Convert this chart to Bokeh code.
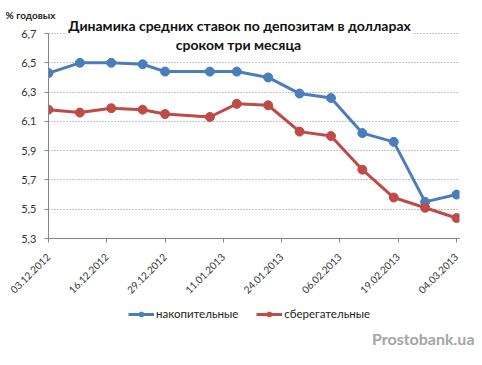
import pandas as pd
from bokeh.plotting import figure
from bokeh.layouts import column
from bokeh.models import (FixedTicker, DatetimeTickFormatter, Label, Legend, LegendItem,
                          Range1d, Title)
from bokeh.embed import file_html
from bokeh.resources import INLINE

# ---- data ----
dates = ["03.12.2012", "10.12.2012", "17.12.2012", "24.12.2012", "29.12.2012",
         "08.01.2013", "14.01.2013", "21.01.2013", "28.01.2013", "04.02.2013",
         "11.02.2013", "18.02.2013", "25.02.2013", "04.03.2013"]
nakopitelnye = [6.43, 6.50, 6.50, 6.49, 6.44, 6.44, 6.44, 6.40, 6.29, 6.26, 6.02, 5.96, 5.55, 5.60]
sberegatelnye = [6.18, 6.16, 6.19, 6.18, 6.15, 6.13, 6.22, 6.21, 6.03, 6.00, 5.77, 5.58, 5.51, 5.44]
x_tick_labels = ["03.12.2012", "16.12.2012", "29.12.2012", "11.01.2013",
                 "24.01.2013", "06.02.2013", "19.02.2013", "04.03.2013"]
y_ticks = [5.3, 5.5, 5.7, 5.9, 6.1, 6.3, 6.5, 6.7]
y_tick_labels = ["5,3", "5,5", "5,7", "5,9", "6,1", "6,3", "6,5", "6,7"]
series_names = ["накопительные", "сберегательные"]
title_lines = ["Динамика средних ставок по депозитам в долларах", "сроком три месяца"]
y_unit = "% годовых"
watermark = "Prostobank.ua"

FONT = "Lato"
BLUE = "#4A7EBB"
RED = "#BE4B48"
AXIS = "#868686"
TXT = "#333333"

x = pd.to_datetime(dates, format="%d.%m.%Y")
xt = pd.to_datetime(x_tick_labels, format="%d.%m.%Y")
day = pd.Timedelta(days=1)

p = figure(width=482, height=305, x_axis_type="datetime",
           output_backend="svg", toolbar_location=None,
           x_range=Range1d(xt[0], xt[-1] + 0.67 * day),
           y_range=Range1d(y_ticks[0], 6.789),
           min_border_left=48, min_border_right=23,
           min_border_top=20, min_border_bottom=67)
p.outline_line_color = None
p.background_fill_color = "white"
p.border_fill_color = "white"

p.title = Title(text=y_unit, align="left", offset=-43, standoff=0,
                text_font=FONT, text_font_size="10px", text_font_style="bold",
                text_color="#222222")

# grid
p.xgrid.grid_line_color = None
p.ygrid.grid_line_color = AXIS
p.ygrid.grid_line_dash = "1 2"
p.ygrid.grid_line_width = 1

# y axis
p.yaxis.ticker = FixedTicker(ticks=y_ticks)
p.yaxis.major_label_overrides = {t: l for t, l in zip(y_ticks, y_tick_labels)}
p.yaxis.bounds = (y_ticks[0], y_ticks[-1])
p.yaxis.axis_line_color = AXIS
p.yaxis.major_tick_line_color = AXIS
p.yaxis.major_tick_out = 4
p.yaxis.major_tick_in = 0
p.yaxis.minor_tick_line_color = None
p.yaxis.major_label_text_font = FONT
p.yaxis.major_label_text_font_size = "11px"
p.yaxis.major_label_text_color = TXT
p.yaxis.major_label_standoff = 8

# x axis
p.xaxis.ticker = FixedTicker(ticks=[t.value / 1e6 for t in xt])
fmt = "%d.%m.%Y"
p.xaxis.formatter = DatetimeTickFormatter(milliseconds=fmt, seconds=fmt, minsec=fmt, minutes=fmt,
                                          hourmin=fmt, hours=fmt, days=fmt, months=fmt, years=fmt)
p.xaxis.major_label_orientation = 0.785398
p.xaxis.axis_line_color = AXIS
p.xaxis.major_tick_line_color = AXIS
p.xaxis.major_tick_out = 4
p.xaxis.major_tick_in = 0
p.xaxis.minor_tick_line_color = None
p.xaxis.major_label_text_font = FONT
p.xaxis.major_label_text_font_size = "10px"
p.xaxis.major_label_text_color = TXT
p.xaxis.major_label_standoff = 13

# series
series = [(nakopitelnye, BLUE, series_names[0]), (sberegatelnye, RED, series_names[1])]
for vals, color, name in series:
    p.line(x, vals, line_color=color, line_width=3)
    p.scatter(x, vals, size=9, fill_color=color, line_color=color)

# title (inside the frame area, over the top gridline)
t1 = Label(x=191, y=213, x_units="screen", y_units="screen", text=title_lines[0],
           text_align="center", text_baseline="middle", text_font=FONT,
           text_font_size="14px", text_font_style="bold", text_color="#111111",
           background_fill_color="white", padding=2)
t2 = Label(x=190, y=194, x_units="screen", y_units="screen", text=title_lines[1],
           text_align="center", text_baseline="middle", text_font=FONT,
           text_font_size="14px", text_font_style="bold", text_color="#111111")
p.add_layout(t1)
p.add_layout(t2)

# ---- bottom strip: legend + watermark (frame aligns with the chart frame) ----
p2 = figure(width=482, height=60, output_backend="svg", toolbar_location=None,
            x_axis_location=None, y_axis_location=None,
            min_border_left=0, min_border_right=0,
            min_border_top=0, min_border_bottom=39,
            x_range=Range1d(0, 1), y_range=Range1d(0, 1))
p2.outline_line_color = None
p2.grid.visible = False
p2.background_fill_color = "white"
p2.border_fill_color = "white"
items = []
for vals, color, name in series:
    # same data; lies outside this strip's ranges, so only the legend glyph shows
    lr = p2.line(x, vals, line_color=color, line_width=3)
    sr = p2.scatter(x, vals, size=9, fill_color=color, line_color=color)
    items.append(LegendItem(label=name, renderers=[lr, sr]))

legend = Legend(items=items, orientation="horizontal", location=(80, 6),
                glyph_width=26, glyph_height=12, label_standoff=2, spacing=18,
                padding=0, margin=0, border_line_color=None, background_fill_alpha=0,
                label_text_font=FONT, label_text_font_size="11.5px", label_text_color="#222222",
                label_height=12)
p2.add_layout(legend)

p2.add_layout(Title(text=watermark, align="right", offset=-15, standoff=0,
                    text_font=FONT, text_font_size="16px", text_font_style="bold",
                    text_color="#A5A5A5"), "below")

layout = column(p, p2, spacing=0)
open("out.html", "w").write(file_html(layout, INLINE))
